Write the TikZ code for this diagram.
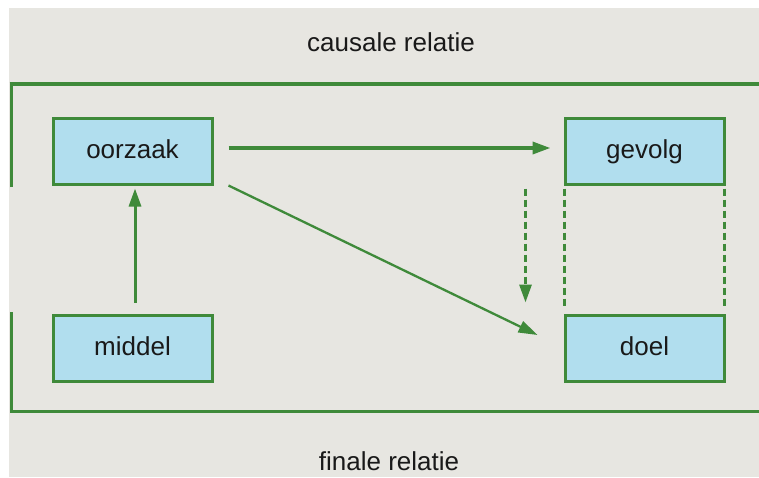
\documentclass[tikz,border=0pt]{standalone}
\usepackage{fontspec}
\setmainfont{Liberation Sans}
\usetikzlibrary{arrows.meta}
\definecolor{bggrijs}{HTML}{E7E6E1}
\definecolor{lijngroen}{HTML}{3F8A3A}
\definecolor{vakblauw}{HTML}{B1DEEE}

\begin{document}
\begin{tikzpicture}[x=1pt,y=-1pt,
  vak/.style={draw=lijngroen, line width=3pt, fill=vakblauw,
    minimum width=159pt, minimum height=66pt, inner sep=0pt,
    text height=19pt, text depth=5pt, text=black!90,
    font=\fontsize{26}{30}\selectfont},
  pijl/.style={lijngroen, line width=3pt, -{Triangle[length=18pt,width=12pt]}},
  stippel/.style={lijngroen, line width=3pt, dash pattern=on 7pt off 4pt},
  titel/.style={anchor=base, text=black!90, font=\fontsize{26}{30}\selectfont}]

\useasboundingbox (0,0) rectangle (759,477);
\fill[white] (0,0) rectangle (759,477);
\fill[bggrijs] (9,8) rectangle (759,477);

% 外框（左边有缺口，右边开口）
\draw[lijngroen, line width=4pt] (9.5,84) -- (759,84);
\draw[lijngroen, line width=3pt] (11,187) -- (11,82);
\draw[lijngroen, line width=3pt, miter limit=2] (11,312) -- (11,411) -- (759,411);

\node[titel] (causaal) at (391,51) {causale relatie};
\node[titel] (finaal) at (389,470) {finale relatie};

% 四个方框
\node[vak] (oorzaak) at (132.5,151) {oorzaak};
\node[vak] (middel) at (132.5,348) {middel};
\node[vak] (gevolg) at (644.5,151) {gevolg};
\node[vak] (doel) at (644.5,348) {doel};

% 箭头
\draw[pijl, shorten <=11pt, shorten >=3pt] ([xshift=2.5pt]middel.north) -- ([xshift=2.5pt]oorzaak.south);
\draw[pijl, line width=3.5pt, shorten <=15pt, shorten >=13pt] ([yshift=3pt]oorzaak.east) -- ([yshift=3pt]gevolg.west);
\draw[pijl, line width=2.3pt, -{Triangle[length=19pt,width=12pt]}] ([xshift=15pt]oorzaak.south east) -- ([xshift=-26pt,yshift=13pt]doel.west);
\draw[pijl, dash pattern=on 7pt off 4pt] ([xshift=-38pt,yshift=-3pt]gevolg.south west) -- ([xshift=-38pt,yshift=11pt]doel.north west);

% 虚线
\draw[stippel] ([xshift=1pt,yshift=-3pt]gevolg.south west) -- ([xshift=1pt,yshift=6pt]doel.north west);
\draw[stippel] ([xshift=-1.5pt,yshift=-3pt]gevolg.south east) -- ([xshift=-1.5pt,yshift=6pt]doel.north east);

\end{tikzpicture}
\end{document}
